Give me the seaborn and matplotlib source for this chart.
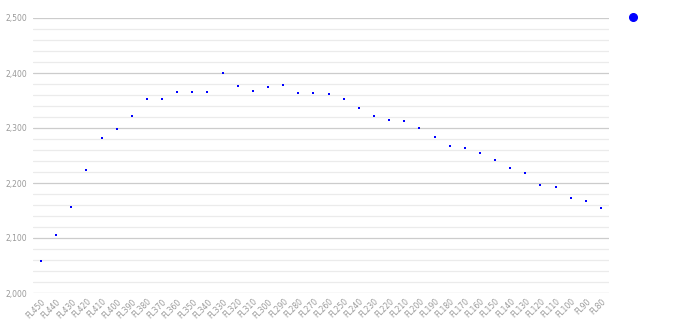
import matplotlib
matplotlib.use("Agg")
import matplotlib.pyplot as plt
import seaborn as sns
import pandas as pd
from matplotlib.ticker import MultipleLocator, FuncFormatter
from matplotlib.lines import Line2D

levels = ["FL450", "FL440", "FL430", "FL420", "FL410", "FL400", "FL390", "FL380",
          "FL370", "FL360", "FL350", "FL340", "FL330", "FL320", "FL310", "FL300",
          "FL290", "FL280", "FL270", "FL260", "FL250", "FL240", "FL230", "FL220",
          "FL210", "FL200", "FL190", "FL180", "FL170", "FL160", "FL150", "FL140",
          "FL130", "FL120", "FL110", "FL100", "FL90", "FL80"]
values = [2058, 2106, 2156, 2224, 2282, 2298, 2322, 2352, 2352, 2366, 2366, 2366,
          2400, 2377, 2368, 2375, 2378, 2364, 2364, 2361, 2352, 2336, 2322, 2315,
          2313, 2300, 2284, 2268, 2263, 2254, 2241, 2227, 2218, 2197, 2193, 2172,
          2167, 2154]

df = pd.DataFrame({"level": levels, "value": values})
df["pos"] = range(len(levels))

sns.set_style("white")
fig = plt.figure(figsize=(6.9, 3.28), dpi=100)
ax = fig.add_axes([33 / 690, 35 / 328, (609 - 33) / 690, (293 - 18) / 328])

sns.scatterplot(data=df, x="pos", y="value", ax=ax, color="#0000ff", marker="s",
                s=2.5, linewidth=0, legend=False, zorder=3)

ax.set_xlim(-0.53, len(levels) - 1 + 0.53)
ax.set_ylim(2000, 2500)
ax.yaxis.set_major_locator(MultipleLocator(100))
ax.yaxis.set_minor_locator(MultipleLocator(20))
ax.yaxis.set_major_formatter(FuncFormatter(lambda v, p: f"{int(v):,}"))
ax.grid(axis="y", which="major", color="#cccccc", linewidth=0.9)
ax.grid(axis="y", which="minor", color="#ebebeb", linewidth=0.9)
ax.set_axisbelow(True)
for s in ax.spines.values():
    s.set_visible(False)

ax.set_xticks(df["pos"])
ax.set_xticklabels(levels, rotation=45, ha="right", rotation_mode="anchor",
                   fontsize=5.5, color="#999999")
ax.tick_params(axis="x", length=0, pad=3)
ax.tick_params(axis="y", which="both", length=0, labelsize=5.5, labelcolor="#999999", pad=4)
ax.set_xlabel("")
ax.set_ylabel("")

handle = Line2D([], [], marker="o", color="#0000ff", linestyle="none", markersize=5.5)
fig.legend([handle], [""], loc="center", bbox_to_anchor=(633 / 690, 1 - 18 / 328),
           frameon=False, handletextpad=0, borderpad=0)

fig.savefig("out.png", dpi=100)
